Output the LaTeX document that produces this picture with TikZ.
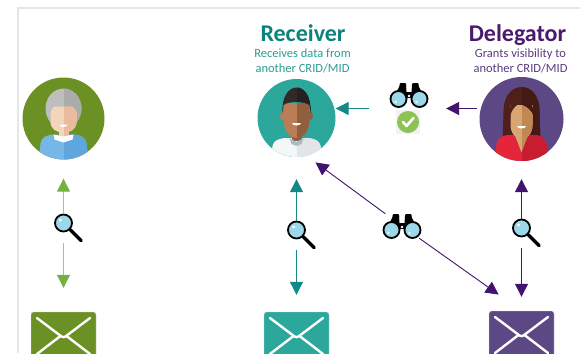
\documentclass[tikz,border=0pt]{standalone}
\usepackage{fontspec}
\setmainfont{Carlito}
\usetikzlibrary{arrows.meta}

% role colours
\definecolor{clientgreen}{HTML}{6B9124}
\definecolor{clientline}{HTML}{9ECB72}
\definecolor{clienthead}{HTML}{74B043}
\definecolor{recvteal}{HTML}{2BA79B}
\definecolor{recvtext}{HTML}{0C827D}
\definecolor{recvnote}{HTML}{2A9C93}
\definecolor{recvline}{HTML}{138987}
\definecolor{delgpurple}{HTML}{5C4884}
\definecolor{delgtext}{HTML}{4A1A6C}
\definecolor{delgnote}{HTML}{5A3A7E}
\definecolor{delgline}{HTML}{42146F}
% icons
\definecolor{glassblue}{HTML}{9DD8EA}
\definecolor{okgreen}{HTML}{8DC255}
\definecolor{framegray}{HTML}{E6E6E6}
% people
\definecolor{hairgray}{HTML}{BEBEBE}
\definecolor{hairgraydk}{HTML}{ABABAB}
\definecolor{skinpale}{HTML}{F4D5BC}
\definecolor{skinpaledk}{HTML}{E8BC9C}
\definecolor{shirtblue}{HTML}{76B7E8}
\definecolor{shirtbluedk}{HTML}{5EA6DD}
\definecolor{skinbrown}{HTML}{B97E55}
\definecolor{skinbrowndk}{HTML}{925F3E}
\definecolor{hairblack}{HTML}{302A28}
\definecolor{hairblackdk}{HTML}{252120}
\definecolor{shirtwhite}{HTML}{F5F6F6}
\definecolor{shirtgray}{HTML}{E1E5E7}
\definecolor{collarblue}{HTML}{A7BBC8}
\definecolor{skintan}{HTML}{D8A673}
\definecolor{skintandk}{HTML}{C08953}
\definecolor{hairbrown}{HTML}{501F18}
\definecolor{hairbrowndk}{HTML}{441A14}
\definecolor{dressred}{HTML}{E4253A}
\definecolor{dressreddk}{HTML}{C81D31}

\begin{document}
\begin{tikzpicture}[x=1pt, y=-1pt,
  avatar/.style={circle, minimum size=#1, inner sep=0pt},
  halves/.style 2 args={fill=#1, path picture={\fill[#2] (0,-60) rectangle (60,60);}},
  title/.style={font=\bfseries\fontsize{24}{28}\selectfont, anchor=base},
  subtitle/.style={font=\fontsize{12.5}{15.4}\selectfont, align=center, anchor=base},
  lens/.style={circle, draw=black, line width=1.8pt, fill=glassblue, minimum size=17pt, inner sep=0pt,
    path picture={\fill[white] ([shift={(-3,-3)}]path picture bounding box.center) circle (1.5pt);}},
  handle/.style={line width=3.2pt, line cap=round},
  mail/.style={rounded corners=2.5pt, draw=black!15, minimum width=65pt, minimum height=48pt, inner sep=0pt,
    path picture={
      \draw[white, line width=2.4pt, line cap=round, line join=round]
        ([shift={(6,6)}]path picture bounding box.north west) -- ([shift={(0,2)}]path picture bounding box.center)
        -- ([shift={(-6,6)}]path picture bounding box.north east);
      \draw[white, line width=2.4pt, line cap=round]
        ([shift={(6,-6)}]path picture bounding box.south west) -- ([shift={(-3,0)}]path picture bounding box.center)
        ([shift={(-6,-6)}]path picture bounding box.south east) -- ([shift={(3,0)}]path picture bounding box.center);
    }},
  spy/.style={minimum width=42pt, minimum height=24pt, inner sep=0pt},
  link/.style={draw=#1, line width=1.2pt, -{Triangle[length=13pt, width=13pt]}},
  binoculars/.pic={
    \fill[black] (-15,2) -- (-9,-10) -- (-3,-10) -- (-2,4) -- cycle;
    \fill[black] (15,2) -- (9,-10) -- (3,-10) -- (2,4) -- cycle;
    \fill[black, rounded corners=1pt] (-9.5,-12) rectangle (-3,-7);
    \fill[black, rounded corners=1pt] (3,-12) rectangle (9.5,-7);
    \fill[black] (-3,-3) rectangle (3,3);
    \filldraw[draw=black, line width=1.8pt, fill=glassblue] (-10.5,4) circle (8) (10.5,4) circle (8);
    \fill[white] (0,1) circle (1.3);
    \fill[white, opacity=.8] (-13.5,7) circle (1.3) (7.5,7) circle (1.3);
  }
]
\useasboundingbox (0,0) rectangle (580,353);
\clip (0,0) rectangle (580,353);
\draw[framegray, line width=1.3pt] (18,353) -- (18,8) -- (580,8);

% headings (subtitle base sits on its last line)
\node[title, text=recvtext] (recvtitle) at (303,41.7) {Receiver};
\node[subtitle, text=recvnote] (recvsub) at (302.5,72.7) {Receives data from\\another CRID/MID};
\node[title, text=delgtext] (delgtitle) at (517.5,41.7) {Delegator};
\node[subtitle, text=delgnote] (delgsub) at (520.5,72.7) {Grants visibility to\\another CRID/MID};

% people
\node[avatar=82pt, fill=clientgreen] (client) at (63.5,118.5) {};
\node[avatar=78pt, fill=recvteal] (receiver) at (296.5,118) {};
\node[avatar=84pt, fill=delgpurple] (delegator) at (521.5,119) {};

\begin{scope}[shift={(client.center)}]
  \clip (0,0) circle (41);
  \fill[halves={hairgray}{hairgraydk}] (0,-10) ellipse (18 and 20);
  \fill[halves={shirtblue}{shirtbluedk}] (-25,44) -- (-23,25) .. controls (-22,19) and (-18,17) .. (-11,16)
    -- (11,16) .. controls (18,17) and (22,19) .. (23,25) -- (25,44) -- cycle;
  \fill[halves={skinpale}{skinpaledk}] (-5,8) rectangle (5,18);
  \fill[halves={skinpale}{skinpaledk}] (-13,-12) -- (-13,3) .. controls (-13,11) and (-7,14) .. (0,14)
    .. controls (7,14) and (13,11) .. (13,3) -- (13,-12) -- cycle;
  \fill[white] (-10,16) -- (0,18) -- (10,16) -- (9,21) -- (0,24) -- (-9,21) -- cycle;
  \fill[halves={hairgray}{hairgraydk}] (-15,-2) .. controls (-16,-36) and (16,-36) .. (15,-2)
    .. controls (13,-11) and (7,-15) .. (0,-15) .. controls (-7,-15) and (-13,-11) .. cycle;
  \fill[white] (-4,6) arc (180:0:4 and 2.5) -- cycle;
\end{scope}

\begin{scope}[shift={(receiver.center)}]
  \clip (0,0) circle (39);
  \fill[halves={shirtwhite}{shirtgray}] (-26,42) -- (-24,28) .. controls (-23,23) and (-19,21) .. (-12,20)
    -- (12,20) .. controls (19,21) and (23,23) .. (24,28) -- (26,42) -- cycle;
  \fill[skinbrowndk] (-5,12) rectangle (5,23);
  \fill[collarblue] (-7,20) -- (0,24) -- (7,20) -- (5,26) -- (0,28) -- (-5,26) -- cycle;
  \fill[skinbrown] (-13.5,-2) ellipse (3 and 4.5);
  \fill[skinbrowndk] (13.5,-2) ellipse (3 and 4.5);
  \fill[halves={skinbrown}{skinbrowndk}] (-12.5,-15) -- (-12.5,5) .. controls (-12,15) and (-6,20) .. (0,20)
    .. controls (6,20) and (12,15) .. (12.5,5) -- (12.5,-15) -- cycle;
  \fill[halves={hairblack}{hairblackdk}] (-14,-5) .. controls (-16,-39) and (16,-39) .. (14,-5)
    -- (13,-13) .. controls (8,-17) and (-8,-17) .. (-13,-13) -- cycle;
  \fill[white] (-4.5,5) arc (180:0:4.5 and 2.5) -- cycle;
\end{scope}

\begin{scope}[shift={(delegator.center)}]
  \clip (0,0) circle (42);
  \fill[halves={hairbrown}{hairbrowndk}] (-19,25) -- (-18,-8) .. controls (-18,-40) and (18,-40) .. (18,-8)
    -- (19,25) -- cycle;
  \fill[halves={skintan}{skintandk}] (-6,10) -- (6,10) -- (7,16) -- (0,34) -- (-7,16) -- cycle;
  \fill[halves={dressred}{dressreddk}] (-27,44) -- (-25,25) .. controls (-24,19) and (-20,17) .. (-14,16)
    -- (-7,16) -- (0,34) -- (7,16) -- (14,16) .. controls (20,17) and (24,19) .. (25,25) -- (27,44) -- cycle;
  \fill[halves={skintan}{skintandk}] (-11,-14) -- (-11,6) .. controls (-11,15) and (-5,20) .. (0,20)
    .. controls (5,20) and (11,15) .. (11,6) -- (11,-14) -- cycle;
  \fill[halves={hairbrown}{hairbrowndk}] (-12,0) .. controls (-15,-27) and (12,-29) .. (12,-4)
    .. controls (8,-12) and (1,-15) .. (-3,-15) .. controls (-8,-12) and (-11,-7) .. cycle;
  \fill[white] (-4.5,7) arc (180:0:4.5 and 2.5) -- cycle;
\end{scope}

% grant of visibility between delegator and receiver
\node[minimum width=40pt, minimum height=52pt, inner sep=0pt] (grant) at (408,108.5) {};
\pic at (409,95) {binoculars};
\fill[black!5] (396,110) rectangle (420,134);
\node[circle, fill=okgreen, minimum size=22pt, inner sep=0pt] (ok) at (408,122) {};
\draw[white, line width=2.6pt, line cap=round, line join=round] ([shift={(-5,0)}]ok.center) -- ++(3.5,4) -- ++(7,-8);
\draw[link=recvline, shorten <=19pt] (grant.west) -- (grant.west -| receiver.east);
\draw[link=delgline, shorten <=2.5pt, shorten >=18pt] (delegator.west |- grant.east) -- (grant.east);

% mailboxes
\node[mail, fill=clientgreen] (mailA) at (63.5,336) {};
\node[mail, fill=recvteal] (mailB) at (296.5,336) {};
\node[mail, fill=delgpurple] (mailC) at (521.5,335) {};

% search lenses
\node[lens] (lensA) at (63.5,223) {};
\node[lens] (lensB) at (296.5,230) {};
\node[lens] (lensC) at (521.5,228) {};
\draw[handle] (lensA.-45) -- ++(11,11);
\draw[handle] (lensB.-45) -- ++(11,11);
\draw[handle] (lensC.-45) -- ++(11,11);

\draw[link=clientline, -{Triangle[length=13pt, width=13pt, color=clienthead]}, shorten >=19pt] (lensA) -- (client);
\draw[link=clientline, -{Triangle[length=13pt, width=13pt, color=clienthead]}, shorten <=11pt, shorten >=24pt] (lensA) -- (mailA);
\draw[link=recvline, shorten >=22pt] (lensB) -- (receiver);
\draw[link=recvline, shorten <=10.5pt, shorten >=17pt] (lensB) -- (mailB);
\draw[link=delgline, shorten >=18pt] (lensC) -- (delegator);
\draw[link=delgline, shorten <=10.5pt, shorten >=14pt] (lensC) -- (mailC);

% delegated view
\node[spy] (spyB) at (402,226) {};
\pic at (spyB) {binoculars};
\draw[link=delgline, line width=0.9pt, shorten >=11pt] (spyB) -- (receiver.285);
\draw[link=delgline, line width=0.9pt, shorten >=28pt] (spyB) -- (mailC.north);
\end{tikzpicture}
\end{document}
